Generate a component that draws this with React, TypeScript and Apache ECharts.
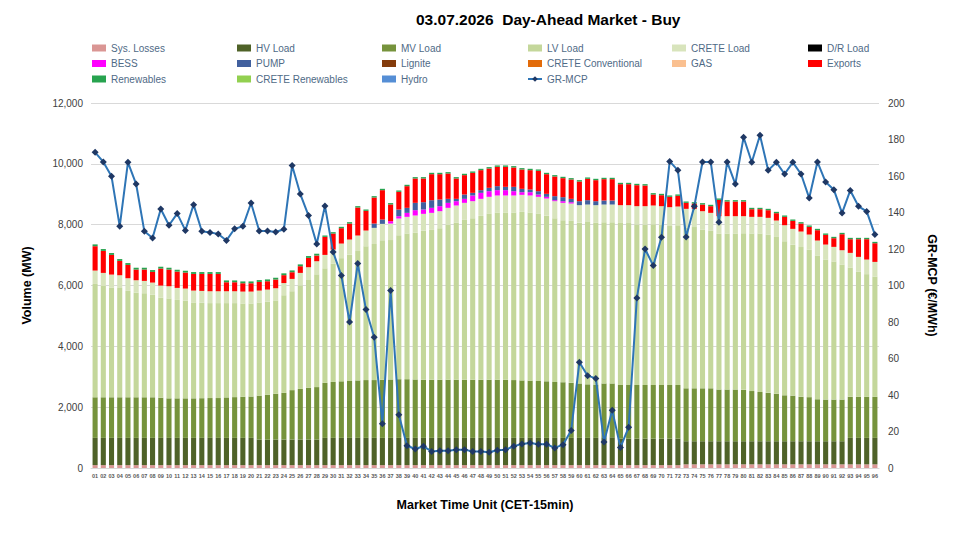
import React, { useEffect, useRef } from "react";
import * as echarts from "echarts";

const periods = [
  "01","02","03","04","05","06","07","08","09","10","11","12","13","14","15","16",
  "17","18","19","20","21","22","23","24","25","26","27","28","29","30","31","32",
  "33","34","35","36","37","38","39","40","41","42","43","44","45","46","47","48",
  "49","50","51","52","53","54","55","56","57","58","59","60","61","62","63","64",
  "65","66","67","68","69","70","71","72","73","74","75","76","77","78","79","80",
  "81","82","83","84","85","86","87","88","89","90","91","92","93","94","95","96",
];

const sysLosses = [
  95,95,95,95,95,95,95,95,95,95,95,95,95,95,95,95,
  95,95,95,95,95,95,95,95,95,95,95,95,95,95,95,95,
  95,95,95,95,95,95,95,95,95,95,95,95,95,95,95,95,
  95,95,95,95,95,95,95,95,95,95,95,95,95,95,95,95,
  95,95,95,95,95,95,95,95,120,120,120,120,120,120,120,120,
  120,120,120,120,120,120,120,120,120,120,120,120,120,120,120,120,
];

const hvLoad = [
  895,895,895,895,895,895,895,895,895,895,895,895,895,895,895,895,
  895,895,895,895,840,840,840,840,840,840,840,840,895,895,895,895,
  895,895,895,895,895,895,895,895,895,895,895,895,895,895,895,895,
  895,895,895,895,895,895,895,895,895,895,895,895,895,895,915,915,
  870,870,870,870,870,870,870,870,760,760,760,760,760,760,760,760,
  760,760,760,760,760,760,760,760,760,760,760,760,870,870,870,870,
];

const mvLoad = [
  1335,1335,1335,1335,1335,1335,1335,1335,1320,1300,1300,1300,1300,1305,1310,1310,
  1330,1340,1350,1360,1445,1475,1505,1535,1625,1665,1705,1725,1810,1840,1860,1870,
  1890,1900,1900,1910,1920,1930,1930,1920,1910,1910,1910,1910,1910,1910,1910,1910,
  1910,1910,1910,1900,1890,1880,1870,1860,1840,1830,1810,1790,1760,1750,1770,1770,
  1765,1765,1765,1765,1765,1765,1765,1765,1740,1740,1740,1740,1700,1700,1700,1690,
  1650,1620,1590,1560,1510,1500,1460,1450,1380,1370,1370,1370,1350,1350,1350,1350,
];

const lvLoad = [
  3726,3659,3609,3592,3499,3438,3421,3371,3287,3286,3236,3214,3153,3137,3121,3121,
  3101,3091,3070,3060,3063,3061,3070,3210,3252,3404,3541,3708,3766,3892,4049,4151,
  4253,4397,4475,4586,4582,4732,4787,4836,4900,4928,4983,5093,5170,5257,5312,5389,
  5455,5499,5499,5509,5540,5529,5495,5445,5377,5327,5325,5286,5337,5321,5302,5302,
  5326,5321,5278,5268,5280,5258,5225,5247,5290,5300,5223,5178,5119,5129,5129,5149,
  5177,5207,5209,5156,5062,4962,4924,4845,4723,4606,4535,4430,4252,4121,4033,3956,
];

const creteLoad = [
  440,430,425,420,415,410,405,400,400,400,395,395,390,390,390,390,
  390,390,390,390,390,395,400,400,405,410,420,430,440,460,480,500,
  510,520,530,540,545,550,550,555,555,560,560,560,560,560,560,560,
  560,560,560,560,560,560,560,565,565,570,570,575,575,580,580,580,
  585,590,600,610,620,620,620,620,610,600,600,590,580,570,570,560,
  550,550,545,540,530,520,510,500,495,490,485,480,480,480,480,480,
];

const bess = [
  0,0,0,0,0,0,0,0,0,0,0,0,0,0,0,0,
  0,0,0,0,0,0,0,0,0,0,0,0,0,0,0,0,
  0,0,0,0,77,77,131,175,143,165,165,164,142,132,187,197,
  186,175,175,142,88,109,76,55,33,55,44,0,0,0,0,0,
  0,0,0,0,0,0,0,0,0,0,0,0,0,0,0,0,
  0,0,0,0,0,0,0,0,0,0,0,0,0,0,0,0,
];

const pump = [
  0,0,0,0,0,0,0,0,0,0,0,0,0,0,0,0,
  0,0,0,0,0,0,0,0,0,0,0,0,0,0,0,0,
  0,0,142,143,0,219,165,241,241,252,219,132,77,142,87,88,
  110,132,110,143,110,88,110,98,132,132,110,131,143,131,132,132,
  0,0,0,0,0,0,0,0,0,0,0,0,0,0,0,0,
  0,0,0,0,0,0,0,0,0,0,0,0,0,0,0,0,
];

const exportsMW = [
  801,724,648,472,438,351,373,351,560,548,537,526,548,559,570,570,
  296,296,274,274,285,274,285,260,219,220,307,187,593,526,505,526,
  921,647,856,965,550,581,713,801,779,855,833,833,669,637,658,658,
  636,636,658,636,636,636,669,647,647,625,636,647,702,691,702,702,
  690,690,690,679,361,361,340,351,197,175,219,220,537,482,482,482,
  252,252,252,241,275,263,263,253,340,319,285,526,450,581,669,614,
];

const renewables = [
  60,60,60,60,60,60,60,60,60,60,60,60,60,60,60,60,
  60,60,60,60,60,60,60,60,60,60,60,60,45,45,45,45,
  45,45,45,45,45,45,45,45,45,45,45,45,45,45,45,45,
  45,45,45,45,45,45,45,45,45,45,45,45,45,45,45,45,
  45,45,45,45,45,45,45,45,45,45,45,45,45,45,45,45,
  45,45,45,45,45,45,45,45,45,45,45,45,45,45,45,45,
];

const zeroSeries = periods.map(() => 0);

const grMcp = [
  173,167.7,159.8,132.4,167.5,155.6,129.7,126,141.9,133,139.4,130.2,144.3,129.7,129.1,128.2,
  124.7,131.1,132.4,145.2,129.9,129.9,129.3,130.8,165.7,150.1,138.3,122.7,143.6,118.3,105.5,80,
  112,86.8,71.6,24.3,97.2,29.2,12.2,10.4,11.9,9.1,9.5,9.5,10,10,9.1,9.1,
  8.6,9.7,10,11.9,13.2,13.7,13,13,11,12.8,20.6,57.9,50.6,49.1,14.2,31.6,
  11.3,22.3,93.2,120,110.9,126.4,168,163.1,126.6,143.4,167.7,167.7,134.6,167.7,155.6,181.2,
  167.5,182.3,163.1,167.5,161.1,167.5,161.1,147.9,167.7,156.7,152.5,139.7,152.1,143.4,140.6,127.9,
];

const leftTicks = { min: 0, max: 12000, interval: 2000 };
const rightTicks = { min: 0, max: 200, interval: 20 };

const FONT = "'Liberation Sans', Arial, sans-serif";

const barSeries: { name: string; data: number[]; color: string }[] = [
  { name: "Sys. Losses", data: sysLosses, color: "#DA9694" },
  { name: "HV Load", data: hvLoad, color: "#4F6228" },
  { name: "MV Load", data: mvLoad, color: "#76933C" },
  { name: "LV Load", data: lvLoad, color: "#C4D79B" },
  { name: "CRETE Load", data: creteLoad, color: "#D8E4BC" },
  { name: "D/R Load", data: zeroSeries, color: "#000000" },
  { name: "BESS", data: bess, color: "#FF00FF" },
  { name: "PUMP", data: pump, color: "#41609E" },
  { name: "Lignite", data: zeroSeries, color: "#843C0C" },
  { name: "CRETE Conventional", data: zeroSeries, color: "#E26B0A" },
  { name: "GAS", data: zeroSeries, color: "#FAC090" },
  { name: "Exports", data: exportsMW, color: "#FF0000" },
  { name: "Renewables", data: renewables, color: "#27A34F" },
  { name: "CRETE Renewables", data: zeroSeries, color: "#92D050" },
  { name: "Hydro", data: zeroSeries, color: "#558ED5" },
];

const legendColumns: string[][] = [
  ["Sys. Losses", "BESS", "Renewables"],
  ["HV Load", "PUMP", "CRETE Renewables"],
  ["MV Load", "Lignite", "Hydro"],
  ["LV Load", "CRETE Conventional", "GR-MCP"],
  ["CRETE Load", "GAS"],
  ["D/R Load", "Exports"],
];
const legendLefts = [92, 237, 382, 527, 672, 808];

export default function App() {
  const ref = useRef<HTMLDivElement>(null);
  useEffect(() => {
    if (!ref.current) return;
    const chart = echarts.init(ref.current, null, { renderer: "svg" });
    const option: any = {
      animation: false,
      backgroundColor: "#ffffff",
      textStyle: { fontFamily: FONT },
      title: {
        text: "03.07.2026  Day-Ahead Market - Buy",
        left: 411,
        top: 6,
        textStyle: { fontSize: 15.5, fontWeight: "bold", color: "#000000", fontFamily: FONT },
      },
      legend: legendColumns.map((col, i) => ({
        orient: "vertical",
        left: legendLefts[i],
        top: 42,
        itemWidth: 14,
        itemHeight: 7,
        itemGap: 3.5,
        padding: 0,
        selectedMode: false,
        textStyle: { fontSize: 10, color: "#4F6A86", lineHeight: 12, fontFamily: FONT },
        data: col.map((n) => (n === "GR-MCP" ? { name: n } : { name: n, icon: "rect" })),
      })),
      grid: { left: 91, right: 83, top: 103, bottom: 68, containLabel: false },
      xAxis: {
        type: "category",
        data: periods,
        name: "Market Time Unit (CET-15min)",
        nameLocation: "middle",
        nameGap: 30,
        nameTextStyle: { fontSize: 12.5, fontWeight: "bold", color: "#000000" },
        axisLine: { show: true, lineStyle: { color: "#D9D9D9" } },
        axisTick: { show: false },
        axisLabel: { interval: 0, fontSize: 5.5, fontWeight: "bold", color: "#595959", margin: 5 },
      },
      yAxis: [
        {
          type: "value",
          ...leftTicks,
          name: "Volume (MW)",
          nameLocation: "middle",
          nameGap: 58,
          nameTextStyle: { fontSize: 12.5, fontWeight: "bold", color: "#000000" },
          axisLine: { show: false },
          axisTick: { show: false },
          axisLabel: {
            fontSize: 10,
            color: "#404040",
            margin: 8,
            formatter: (v: number) => v.toLocaleString("en-US"),
          },
          splitLine: { show: true, lineStyle: { color: "#D9D9D9", width: 1 } },
        },
        {
          type: "value",
          ...rightTicks,
          name: "GR-MCP (€/MWh)",
          nameLocation: "middle",
          nameGap: 46,
          nameRotate: 270,
          nameTextStyle: { fontSize: 12.5, fontWeight: "bold", color: "#000000" },
          axisLine: { show: false },
          axisTick: { show: false },
          axisLabel: { fontSize: 10, color: "#404040", margin: 9 },
          splitLine: { show: false },
        },
      ],
      series: [
        ...barSeries.map((s) => ({
          name: s.name,
          type: "bar",
          stack: "total",
          data: s.data,
          barCategoryGap: "38%",
          itemStyle: { color: s.color },
          emphasis: { disabled: true },
        })),
        {
          name: "GR-MCP",
          type: "line",
          yAxisIndex: 1,
          data: grMcp,
          symbol: "diamond",
          symbolSize: 7,
          lineStyle: { color: "#2E75B6", width: 2 },
          itemStyle: { color: "#1F3864" },
          z: 10,
        },
      ],
    };
    chart.setOption(option);
    return () => chart.dispose();
  }, []);
  return (
    <div
      ref={ref}
      style={{ position: "absolute", left: 0, top: 0, width: 962, height: 536 }}
    />
  );
}
